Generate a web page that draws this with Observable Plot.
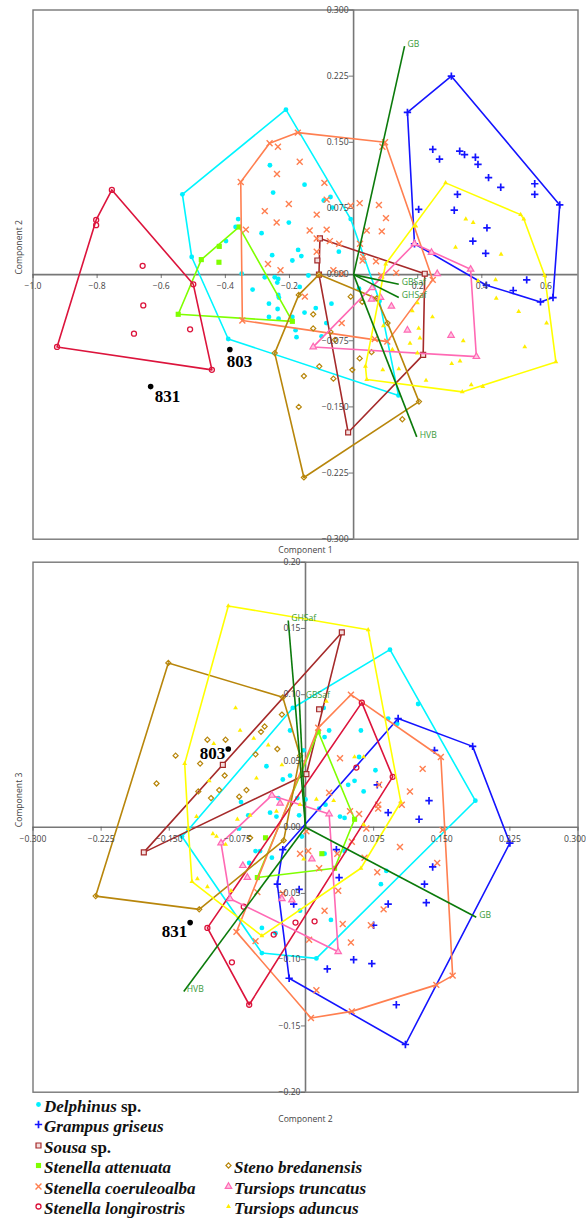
<!DOCTYPE html>
<html><head><meta charset="utf-8">
<script src="https://cdn.jsdelivr.net/npm/d3@7"></script>
<script src="https://cdn.jsdelivr.net/npm/@observablehq/plot@0.6"></script>
<style>
html,body{margin:0;padding:0;background:#fff;}
#page{position:relative;width:586px;height:1218px;overflow:hidden;}
#page>svg{display:block;}
#legend{position:absolute;left:0;top:0;width:586px;height:1218px;pointer-events:none;}
.row{position:absolute;white-space:nowrap;font:bold 17px "Liberation Serif",serif;color:#111;line-height:20px;height:20px;}
.row i{font-style:italic;}
</style></head><body><div id="page"><div id="legend"></div></div>
<script>
// ---- Component 1 vs Component 2 ----
const delphinusHull12=[[-.534,.091],[-.211,.187],[-.009,.063],[.081,-.030],[.140,-.137],[-.391,-.073],[-.505,.020]];
const delphinusPts12=[[-.261,.124],[-.251,.093],[-.360,.063],[-.368,.054],[-.202,.059],[-.287,.047],[-.398,.038],[-.254,.022],[-.173,.028],[-.191,.016],[-.163,.021],[-.349,.001],[-.277,-.003],[-.246,-.003],[-.235,-.005],[-.153,.102],[-.072,.088],[-.093,.084],[-.066,.076],[-.046,.026],[-.238,-.009],[-.315,-.017],[-.235,-.023],[-.233,-.026],[-.264,-.033],[-.237,-.039],[-.264,-.048],[-.234,-.050],[-.191,-.048],[-.168,-.014],[-.181,-.063],[-.178,-.071],[-.141,-.001],[-.118,-.038],[-.069,-.033],[-.153,-.043],[-.085,-.055],[-.100,-.070],[.017,-.016]];
const grampusHull12=[[.168,.184],[.305,.225],[.643,.079],[.622,-.026],[.583,-.031],[.414,-.012],[.190,.035]];
const grampusPts12=[[.247,.142],[.268,.131],[.331,.140],[.346,.136],[.380,.133],[.388,.125],[.421,.110],[.459,.099],[.565,.103],[.565,.091],[.324,.091],[.203,.074],[.314,.073],[.416,.053],[.372,.038],[.412,.024],[.540,-.006],[.498,-.018]];
const sousaHull12=[[-.105,.041],[.222,.001],[.217,-.091],[-.017,-.179],[-.108,0]];
const sousaPts12=[[-.113,.016]];
const attenuataHull12=[[-.357,.054],[-.475,.017],[-.547,-.045],[-.191,-.053]];
const attenuataPts12=[[-.419,.032],[-.420,.014]];
const coeruleoalbaHull12=[[-.352,.105],[-.262,.149],[-.174,.161],[.098,.150],[.247,-.006],[.105,-.076],[-.347,-.052]];
const coeruleoalbaPts12=[[-.236,.145],[-.168,.128],[-.239,.114],[-.202,.080],[-.277,.072],[-.240,.059],[-.336,.051],[-.267,.012],[-.228,.005],[.090,.145],[-.091,.104],[-.084,.085],[.019,.081],[-.009,.078],[.079,.079],[.101,.064],[-.115,.068],[-.137,.050],[-.084,.051],[.041,.050],[.088,.049],[-.115,.041],[-.074,.038],[-.045,.035],[.020,.035],[-.115,.026],[.030,.020],[.028,.016],[.070,.015],[-.063,.005],[-.037,.001],[.133,.002],[.086,-.001],[-.152,-.025],[-.037,-.055],[.066,-.073]];
const longirostrisHull12=[[-.754,.096],[-.803,.062],[-.925,-.082],[-.442,-.108],[-.500,-.011]];
const longirostrisPts12=[[-.803,.056],[-.658,.010],[-.656,-.035],[-.685,-.067],[-.510,-.062]];
const stenoHull12=[[-.108,0],[.072,-.027],[.106,-.055],[.204,-.144],[-.155,-.230],[-.246,-.089],[-.171,-.023]];
const stenoPts12=[[-.009,-.025],[.027,-.031],[-.126,-.045],[-.126,-.061],[-.072,-.065],[-.058,-.074],[.056,-.088],[.019,-.095],[-.107,-.104],[-.004,-.108],[-.155,-.115],[-.063,-.118],[-.171,-.150],[.152,-.164]];
const truncatusHull12=[[.190,.035],[.365,.006],[.383,-.093],[-.126,-.082]];
const truncatusPts12=[[.243,.025],[.261,.001],[.058,-.015],[.084,-.026],[.056,-.028],[.118,-.036],[.168,-.063],[.304,-.069]];
const aduncusHull12=[[.287,.104],[.521,.068],[.531,.063],[.596,-.001],[.631,-.099],[.339,-.133],[.041,-.119],[.037,-.104],[.100,.012]];
const aduncusPts12=[[.194,.055],[.350,.063],[.373,.059],[.318,.031],[.460,.023],[.443,-.006],[.388,-.007],[.445,-.027],[.199,-.032],[.515,-.042],[.183,-.041],[.246,-.048],[.602,-.055],[.093,-.058],[.203,-.061],[.207,-.072],[.176,-.078],[.342,-.075],[.534,-.082],[.121,-.085],[.199,-.089],[.332,-.098],[.306,-.101],[.091,-.108],[.141,-.107],[.226,-.120],[.367,-.125],[.403,-.127]];
const vectors12=[["GB",.159,.259],["HVB",.197,-.184],["GBSaf",.141,-.011],["GHSaf",.141,-.026]];
const specimens12=[["803",-.386,-.085],["831",-.633,-.127]];
const xTicks12=[-1,-.8,-.6,-.4,-.2,.2,.4,.6];
const yTicks12=[.3,.225,.15,.075,0,-.075,-.15,-.225,-.3];

// ---- Component 2 vs Component 3 ----
const delphinusHull23=[[.093,.134],[.187,.020],[.012,-.099],[-.048,-.095],[-.136,-.007],[-.129,-.002],[-.014,.090]];
const delphinusPts23=[[-.017,.073],[-.043,.046],[-.025,.036],[-.017,.039],[-.071,.019],[-.030,.022],[-.009,.022],[-.063,.009],[-.039,.011],[-.007,.009],[-.032,.008],[.021,.068],[.026,.073],[.020,.090],[.061,.073],[.091,.082],[.101,.078],[.124,.093],[.059,.053],[-.002,.058],[.077,.043],[.054,.035],[.047,.032],[.064,.027],[.022,.017],[.015,.014],[0,.021],[.038,.008],[.043,.007],[-.073,-.001],[-.055,-.018],[-.050,-.018],[-.037,-.023],[-.062,-.027],[-.048,-.076],[-.033,-.080],[-.006,-.063],[-.004,-.007],[.021,-.020],[.043,-.018],[.089,-.033],[.083,-.043],[.028,-.070]];
const grampusHull23=[[.102,.082],[.184,.061],[.225,-.012],[.110,-.164],[-.018,-.114],[-.031,-.043],[-.025,-.017]];
const grampusPts23=[[.142,.058],[.136,.020],[.091,.011],[.125,.006],[.079,.032],[.034,-.017],[.037,-.038],[.140,-.030],[.131,-.043],[.133,-.057],[.091,-.058],[.075,-.074],[.053,-.100],[.073,-.103],[.024,-.107],[.100,-.134],[-.007,-.047],[-.013,-.058]];
const sousaHull23=[[.040,.147],[-.178,-.019],[.001,.040]];
const sousaPts23=[[-.091,.047],[.015,.089]];
const attenuataHull23=[[.014,.072],[.054,.006],[.032,-.031],[-.053,-.038]];
const attenuataPts23=[[-.044,-.008],[.018,-.020]];
const coeruleoalbaHull23=[[.050,.100],[.149,.053],[.162,-.112],[.144,-.119],[.051,-.139],[.006,-.144],[-.076,-.079],[.014,.075]];
const coeruleoalbaPts23=[[.038,.052],[.129,.044],[.081,.032],[.115,.027],[.026,.026],[.106,.017],[.080,.017],[.080,.014],[.049,.012],[.059,.010],[.067,-.001],[.151,-.002],[.001,-.003],[.051,-.011],[.104,-.015],[.003,-.018],[-.006,-.020],[.035,-.020],[.065,-.023],[.015,-.031],[.145,-.027],[.079,-.034],[.036,-.048],[.021,-.063],[.086,-.062],[.041,-.073],[.072,-.074],[.004,-.085],[.050,-.087],[.012,-.123],[-.055,-.086],[-.053,-.049],[-.025,-.050]];
const longirostrisHull23=[[.062,.094],[.096,.038],[-.062,-.134],[-.108,-.076]];
const longirostrisPts23=[[.056,.045],[-.081,-.102],[-.035,-.081],[-.011,-.072],[.010,-.071],[-.068,-.060]];
const stenoHull23=[[-.151,.124],[-.025,.098],[-.006,.054],[-.024,-.010],[-.117,-.062],[-.231,-.052]];
const stenoPts23=[[-.026,.085],[-.045,.076],[-.049,.072],[-.108,.066],[-.088,.066],[-.031,.059],[-.055,.055],[-.143,.054],[-.116,.048],[-.089,.039],[-.164,.033],[-.118,.027],[-.095,.028],[-.104,.022],[-.073,.023],[-.065,.028],[-.061,-.008]];
const truncatusHull23=[[-.037,.024],[.026,.010],[.036,-.094],[-.083,-.054],[-.093,-.012]];
const truncatusPts23=[[-.028,.018],[-.069,-.029],[-.064,-.038],[-.026,-.054],[-.015,-.055],[.007,-.024]];
const aduncusHull23=[[-.085,.167],[.069,.149],[.105,.019],[.061,-.031],[-.048,-.082],[-.125,-.041],[-.129,-.001],[-.133,.048]];
const aduncusPts23=[[-.077,.090],[-.072,.073],[-.101,.063],[-.057,.067],[-.041,.062],[-.026,.047],[-.054,.037],[-.106,.035],[-.120,.008],[-.075,.006],[-.061,.009],[-.032,.012],[.023,.095],[.054,.053],[.064,.053],[.012,.021],[.031,.020],[-.006,.017],[.064,.002],[-.102,-.005],[-.098,-.007],[-.088,-.013],[-.119,-.039],[-.108,-.045],[-.082,-.048],[-.002,-.024]];
const vectors23=[["GHSaf",-.019,.156],["GBSaf",-.007,.098],["GB",.188,-.068],["HVB",-.134,-.124]];
const specimens23=[["803",-.085,.059],["831",-.127,-.072]];
const xTicks23=[-.3,-.225,-.15,-.075,.075,.15,.225,.3];
const yTicks23=[.2,.15,.1,.05,0,-.05,-.1,-.15,-.2];

// ---- Names (legend) ----
const speciesNames=[["Delphinus"," sp."],["Grampus griseus",""],["Sousa"," sp."],["Stenella attenuata",""],["Stenella coeruleoalba",""],["Stenella longirostris",""],["Steno bredanensis",""],["Tursiops truncatus",""],["Tursiops aduncus",""]];

// ---- Styles ----
const styles=[
 {color:"#00f5ff",symbol:"circle",r:2.4,fill:"#00f0ff",stroke:"none",sw:0},
 {color:"#1414ff",symbol:"plus",r:2.5,fill:"none",stroke:"#1414ff",sw:1.7},
 {color:"#a52a2a",symbol:"square",r:2.8,fill:"#f3dede",stroke:"#a52a2a",sw:1.2},
 {color:"#7fff00",symbol:"square",r:2.9,fill:"#7fff00",stroke:"none",sw:0},
 {color:"#ff7f50",symbol:"times",r:2.8,fill:"none",stroke:"#ff7f50",sw:1.4},
 {color:"#dc143c",symbol:"circle",r:2.5,fill:"none",stroke:"#dc143c",sw:1.3},
 {color:"#b8860b",symbol:"diamond2",r:2.3,fill:"none",stroke:"#b8860b",sw:1.2},
 {color:"#ff69b4",symbol:"triangle",r:2.4,fill:"#ffc4e2",stroke:"#ff69b4",sw:1.2},
 {color:"#ffff00",symbol:"triangle",r:1.8,fill:"#ffee00",stroke:"none",sw:0}
];
const set12=[[delphinusHull12,delphinusPts12],[grampusHull12,grampusPts12],[sousaHull12,sousaPts12],[attenuataHull12,attenuataPts12],[coeruleoalbaHull12,coeruleoalbaPts12],[longirostrisHull12,longirostrisPts12],[stenoHull12,stenoPts12],[truncatusHull12,truncatusPts12],[aduncusHull12,aduncusPts12]];
const set23=[[delphinusHull23,delphinusPts23],[grampusHull23,grampusPts23],[sousaHull23,sousaPts23],[attenuataHull23,attenuataPts23],[coeruleoalbaHull23,coeruleoalbaPts23],[longirostrisHull23,longirostrisPts23],[stenoHull23,stenoPts23],[truncatusHull23,truncatusPts23],[aduncusHull23,aduncusPts23]];

const tickFont={fontFamily:"Open Sans",fontSize:8.6,fill:"#444"};
const axisGrey="#777";
const dotStyle=s=>({symbol:s.symbol,r:s.r,fill:s.fill,stroke:s.stroke,strokeWidth:s.sw});

function panel(o){
 const marks=[
  Plot.frame({stroke:axisGrey,strokeWidth:1.4}),
  Plot.ruleX([0],{stroke:axisGrey,strokeWidth:1.6}),
  Plot.ruleY([0],{stroke:axisGrey,strokeWidth:1.6}),
  Plot.ruleX(o.xTicks,{x:d=>d,y1:0,y2:-o.tickY,stroke:"#555",strokeWidth:.8}),
  Plot.ruleY(o.yTicks,{y:d=>d,x1:0,x2:-o.tickX,stroke:"#555",strokeWidth:.8})
 ];
 o.set.forEach(([hull,pts],i)=>{
  const s=styles[i];
  marks.push(Plot.line([...hull,hull[0]],{x:d=>d[0],y:d=>d[1],stroke:s.color,strokeWidth:1.6}));
  marks.push(Plot.dot([...hull,...pts],{x:d=>d[0],y:d=>d[1],...dotStyle(s)}));
 });
 marks.push(Plot.link(o.vectors,{x1:0,y1:0,x2:d=>d[1],y2:d=>d[2],stroke:"#0b7a0b",strokeWidth:1.6}));
 o.vectors.forEach(v=>marks.push(Plot.text([v],{x:d=>d[1],y:d=>d[2],text:d=>d[0],textAnchor:"start",dx:o.vecDx[v[0]]??3,dy:-2,fill:"#3a9a3a",fontFamily:"Open Sans",fontSize:8.6})));
 marks.push(Plot.dot(o.specimens,{x:d=>d[1],y:d=>d[2],r:2.8,fill:"#000"}));
 o.specimens.forEach(v=>{const t=o.specText[v[0]];marks.push(Plot.text([v],{x:d=>d[1],y:d=>d[2],text:d=>d[0],textAnchor:t[2],dx:t[0],dy:t[1],fill:"#000",fontFamily:"Liberation Serif",fontWeight:"bold",fontSize:17}))});
 marks.push(Plot.text(o.xTicks.filter(d=>d!==o.edgeTick),{x:d=>d,y:0,dy:12,text:o.xFmt,...tickFont}));
 if(o.edgeTick!==undefined) marks.push(Plot.text([o.edgeTick],{x:d=>d,y:0,dy:12,dx:-3,text:o.xFmt,...tickFont}));
 marks.push(Plot.text(o.yTicks,{y:d=>d,x:0,dx:-5,textAnchor:"end",text:o.yFmt,...tickFont}));
 marks.push(Plot.text([o.xLabel],{frameAnchor:"bottom",dy:o.xLabelDy,text:d=>d,...tickFont}));
 marks.push(Plot.text([o.yLabel],{frameAnchor:"left",dx:-14,rotate:-90,text:d=>d,...tickFont}));
 return Plot.plot({width:586,height:o.height,marginLeft:32.5,marginRight:8.5,marginTop:o.mt,marginBottom:o.mb,
  style:{background:"#fff",overflow:"visible"},
  x:{domain:o.xDomain,axis:null},y:{domain:o.yDomain,axis:null},marks});
}

const page=document.getElementById("page");
page.insertBefore(panel({height:555,mt:9.5,mb:16.3,xDomain:[-1,.7],yDomain:[-.3,.3],set:set12,vectors:vectors12,vecDx:{},
 specimens:specimens12,specText:{"803":[-3,12,"start"],"831":[4,10,"start"]},xTicks:xTicks12,yTicks:yTicks12,tickX:.014,tickY:.0045,
 xFmt:d3.format(".1f"),yFmt:d3.format(".3f"),xLabel:"Component 1",yLabel:"Component 2",xLabelDy:14}),page.firstChild);
page.insertBefore(panel({height:570,mt:6.7,mb:33.3,xDomain:[-.3,.3],yDomain:[-.2,.2],set:set23,vectors:vectors23,vecDx:{GBSaf:6.5},
 specimens:specimens23,specText:{"803":[-3,4.6,"end"],"831":[-3,8.7,"end"]},xTicks:xTicks23,yTicks:yTicks23,tickX:.0045,tickY:.003,edgeTick:.3,
 xFmt:d3.format(".3f"),yFmt:d3.format(".2f"),xLabel:"Component 2",yLabel:"Component 3",xLabelDy:30}),page.children[1]);

// legend
const legendPos=[[44,1097],[44,1117],[44,1138],[44,1158],[44,1178.5],[44,1199],[234,1158],[234,1178.5],[234,1199]];
const legend=document.getElementById("legend");
speciesNames.forEach((n,i)=>{
 const row=document.createElement("div");row.className="row";
 row.style.left=legendPos[i][0]+"px";row.style.top=legendPos[i][1]+"px";
 const it=document.createElement("i");it.textContent=n[0];row.appendChild(it);
 row.appendChild(document.createTextNode(n[1]));
 const sw=Plot.plot({width:12,height:12,margin:0,marks:[Plot.dot([0],{frameAnchor:"middle",...dotStyle(styles[i])})]});
 sw.setAttribute("style","position:absolute;left:-12px;top:1px;overflow:visible;background:none");
 row.appendChild(sw);
 legend.appendChild(row);
});
</script></body></html>
